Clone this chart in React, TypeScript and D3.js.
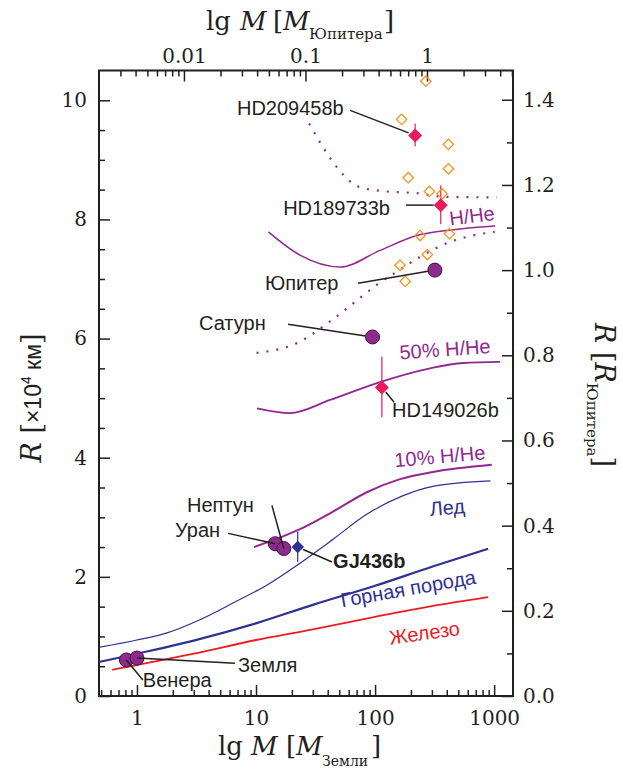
import React, { useEffect, useRef } from "react";
import * as d3 from "d3";

// mass in Earth masses, radius in 10^4 km
const ironMass = [0.62, 1, 3, 10, 30, 100, 300, 890];
const ironRadius = [0.44, 0.52, 0.71, 0.94, 1.12, 1.33, 1.51, 1.66];

const rockMass = [0.48, 1, 3, 10, 30, 100, 300, 890];
const rockRadius = [0.57, 0.71, 0.93, 1.22, 1.53, 1.85, 2.17, 2.47];

const iceMass = [0.49, 1, 1.79, 3.38, 6.4, 12.3, 23.4, 45, 85, 170, 307, 930];
const iceRadius = [0.82, 0.94, 1.06, 1.28, 1.56, 1.86, 2.23, 2.64, 3.05, 3.36, 3.52, 3.61];

const h10Mass = [9.6, 23.4, 44.7, 85.2, 162, 307, 955];
const h10Radius = [2.5, 2.8, 3.1, 3.42, 3.64, 3.76, 3.88];

const h50Mass = [10.2, 19.3, 41.9, 110, 290, 550, 1120];
const h50Radius = [4.83, 4.75, 4.97, 5.27, 5.5, 5.59, 5.61];

const hheMass = [12.7, 23.4, 50.8, 110, 224, 420, 1020];
const hheRadius = [7.79, 7.4, 7.2, 7.48, 7.73, 7.82, 7.89];

// irradiated H/He models (dotted)
const hotUpperMass = [27.9, 43.3, 57.8, 70.2, 110, 224, 373, 1054];
const hotUpperRadius = [9.61, 8.99, 8.69, 8.56, 8.48, 8.44, 8.38, 8.37];
const hotLowerMass = [10.1, 21.9, 41.9, 70.2, 103, 152, 238, 400, 660, 1010];
const hotLowerRadius = [5.76, 5.92, 6.29, 6.64, 6.9, 7.12, 7.37, 7.6, 7.73, 7.79];

// solar system planets
const planetNames = ["Венера", "Земля", "Уран", "Нептун", "Сатурн", "Юпитер"];
const planetMass = [0.815, 1, 14.5, 17.1, 95.2, 317.8];
const planetRadius = [0.605, 0.637, 2.556, 2.476, 6.027, 7.149];

// transiting planets with error bars
const transitNames = ["HD209458b", "HD189733b", "HD149026b"];
const transitMass = [217, 356, 114];
const transitRadius = [9.41, 8.24, 5.18];
const transitLow = [9.23, 7.92, 4.68];
const transitHigh = [9.61, 8.57, 5.7];

const gjMass = [22.4];
const gjRadius = [2.5];
const gjLow = [2.25];
const gjHigh = [2.76];

// other known transiting giants
const otherMass = [267, 167, 413, 413, 190, 286, 365, 239, 421, 275, 162, 179];
const otherRadius = [10.32, 9.68, 9.26, 8.85, 8.7, 8.47, 8.43, 7.73, 7.76, 7.41, 7.23, 6.96];

const bottomMajor = [1, 10, 100, 1000];
const topMajor = [0.01, 0.1, 1];
const leftMajor = [0, 2, 4, 6, 8, 10];
const rightMajor = [0, 0.2, 0.4, 0.6, 0.8, 1.0, 1.2, 1.4];

const RJ = 7.149; // Jupiter radius, 10^4 km

const PURPLE = "#93278F";
const BLUE = "#2E3192";
const RED = "#ED1C24";
const PINK = "#EC1A5B";
const ORANGE = "#F7941D";
const INK = "#231F20";
const SERIF = "'DejaVu Serif', serif";
const SANS = "'Liberation Sans', Arial, sans-serif";

// annotation layout (data coordinates)
const leaders = [
  { text: "HD209458b", tx: 6.92, ty: 9.75, fx: 61.7, fy: 9.83, px: 217, py: 9.41, trim: 7 },
  { text: "HD189733b", tx: 16.9, ty: 8.07, fx: 182, fy: 8.24, px: 356, py: 8.24, trim: 7 },
  { text: "Юпитер", tx: 11.9, ty: 6.81, fx: 72, fy: 6.93, px: 317.8, py: 7.149, trim: 7 },
  { text: "Сатурн", tx: 3.32, ty: 6.14, fx: 18.6, fy: 6.24, px: 95.2, py: 6.027, trim: 7 },
  { text: "HD149026b", tx: 139, ty: 4.68, fx: 144.5, fy: 4.93, px: 114, py: 5.18, trim: 6 },
  { text: "Нептун", tx: 2.63, ty: 3.09, fx: 13.6, fy: 3.2, px: 17.1, py: 2.476, trim: 0 },
  { text: "Уран", tx: 2.09, ty: 2.67, fx: 5.82, fy: 2.73, px: 14.5, py: 2.556, trim: 0 },
  { text: "GJ436b", tx: 44.4, ty: 2.15, fx: 43.5, fy: 2.25, px: 22.4, py: 2.5, trim: 6, bold: true },
  { text: "Земля", tx: 7.06, ty: 0.4, fx: 6.66, fy: 0.55, px: 1, py: 0.637, trim: 0 },
  { text: "Венера", tx: 1.12, ty: 0.15, fx: 1.12, fy: 0.27, px: 0.815, py: 0.605, trim: 0 },
];

const curveLabels = [
  { text: "H/He", tx: 427, ty: 7.9, rot: -7, color: PURPLE },
  { text: "50% H/He", tx: 162, ty: 5.65, rot: -4, color: PURPLE },
  { text: "10% H/He", tx: 147, ty: 3.84, rot: -5, color: PURPLE },
  { text: "Лед", tx: 290, ty: 3.02, rot: -5, color: BLUE },
  { text: "Горная порода", tx: 52.8, ty: 1.49, rot: -10, color: BLUE },
  { text: "Железо", tx: 134, ty: 0.86, rot: -8, color: RED },
];

const App = () => {
  const svgRef = useRef<SVGSVGElement>(null);

  useEffect(() => {
    document.body.style.margin = "0";
    const svg = d3.select(svgRef.current);
    svg.selectAll("*").remove();

    const left = 99, right = 513, top = 70.5, bottom = 696;

    const x = d3.scaleLog().domain([0.48, 1440]).range([left, right]);
    const xTop = d3.scaleLog().domain([0.002, 5.1]).range([left, right]);
    const y = d3.scaleLinear().domain([0, 10.5]).range([bottom, top]);
    const yR = d3.scaleLinear().domain([0, 10.5 / RJ]).range([bottom, top]);

    const zip = (ms: number[], rs: number[]) => ms.map((m, i) => [m, rs[i]] as [number, number]);
    const line = d3
      .line<[number, number]>()
      .x((d) => x(d[0]))
      .y((d) => y(d[1]))
      .curve(d3.curveMonotoneX);

    // --- axes ---
    const styleAxis = (g: any) => {
      g.select(".domain").remove();
      g.selectAll("line").attr("stroke", INK).attr("stroke-width", 1.5);
      g.selectAll("text").attr("fill", INK).style("font-family", SERIF).style("font-size", "20px");
    };

    const minorBottom = [0.5, 0.6, 0.7, 0.8, 0.9, 2, 3, 4, 5, 6, 7, 8, 9, 20, 30, 40, 50, 60, 70, 80, 90, 200, 300, 400, 500, 600, 700, 800, 900];
    const minorTop = [0.003, 0.004, 0.005, 0.006, 0.007, 0.008, 0.009, 0.02, 0.03, 0.04, 0.05, 0.06, 0.07, 0.08, 0.09, 0.2, 0.3, 0.4, 0.5, 0.6, 0.7, 0.8, 0.9, 2, 3, 4, 5];
    const minorLeft = d3.range(0.5, 10.5, 0.5).filter((v) => v % 2 !== 0);
    const minorRight = [0.1, 0.3, 0.5, 0.7, 0.9, 1.1, 1.3];

    const gB = svg.append("g").attr("transform", `translate(0,${bottom})`);
    gB.append("g").call(d3.axisBottom(x).tickValues(minorBottom).tickSize(-6).tickFormat(() => "")).call(styleAxis);
    gB.append("g")
      .call(d3.axisBottom(x).tickValues(bottomMajor).tickSize(-11).tickPadding(15).tickFormat((d: any) => String(d)))
      .call(styleAxis);

    const gT = svg.append("g").attr("transform", `translate(0,${top})`);
    gT.append("g").call(d3.axisTop(xTop).tickValues(minorTop).tickSize(-6).tickFormat(() => "")).call(styleAxis);
    gT.append("g")
      .call(d3.axisTop(xTop).tickValues(topMajor).tickSize(-11).tickPadding(8).tickFormat((d: any) => String(d)))
      .call(styleAxis);

    const gL = svg.append("g").attr("transform", `translate(${left},0)`);
    gL.append("g").call(d3.axisLeft(y).tickValues(minorLeft).tickSize(-6).tickFormat(() => "")).call(styleAxis);
    gL.append("g")
      .call(d3.axisLeft(y).tickValues(leftMajor).tickSize(-11).tickPadding(12).tickFormat(d3.format("d")))
      .call(styleAxis);

    const gR = svg.append("g").attr("transform", `translate(${right},0)`);
    gR.append("g").call(d3.axisRight(yR).tickValues(minorRight).tickSize(-6).tickFormat(() => "")).call(styleAxis);
    gR.append("g")
      .call(d3.axisRight(yR).tickValues(rightMajor).tickSize(-11).tickPadding(10).tickFormat(d3.format(".1f")))
      .call(styleAxis);

    svg
      .append("rect")
      .attr("x", left)
      .attr("y", top)
      .attr("width", right - left)
      .attr("height", bottom - top)
      .attr("fill", "none")
      .attr("stroke", INK)
      .attr("stroke-width", 2);

    // --- axis titles ---
    const bt = svg.append("text").attr("fill", INK).style("font-family", SERIF).style("font-size", "26px");
    bt.append("tspan").attr("x", 218).attr("y", 755).text("lg");
    bt.append("tspan").attr("x", 251).attr("y", 755).style("font-style", "italic").text("M");
    bt.append("tspan").attr("x", 286).attr("y", 755).text("[");
    bt.append("tspan").attr("x", 296).attr("y", 755).style("font-style", "italic").text("M");
    bt.append("tspan").attr("x", 322).attr("y", 766).style("font-size", "14px").text("Земли");
    bt.append("tspan").attr("x", 371).attr("y", 755).text("]");

    const tt = svg.append("text").attr("fill", INK).style("font-family", SERIF).style("font-size", "26px");
    tt.append("tspan").attr("x", 206).attr("y", 30).text("lg");
    tt.append("tspan").attr("x", 240).attr("y", 30).style("font-style", "italic").text("M");
    tt.append("tspan").attr("x", 273).attr("y", 30).text("[");
    tt.append("tspan").attr("x", 283).attr("y", 30).style("font-style", "italic").text("M");
    tt.append("tspan").attr("x", 309).attr("y", 39).style("font-size", "15px").text("Юпитера");
    tt.append("tspan").attr("x", 384).attr("y", 30).text("]");

    const lt = svg
      .append("text")
      .attr("transform", "translate(41,398) rotate(-90)")
      .attr("text-anchor", "middle")
      .attr("fill", INK)
      .style("font-family", SERIF)
      .style("font-size", "27px");
    lt.append("tspan").style("font-style", "italic").text("R");
    lt.append("tspan").text(" [");
    lt.append("tspan").style("font-family", SANS).style("font-size", "23px").text("×10");
    lt.append("tspan").attr("dy", -10).style("font-family", SANS).style("font-size", "14px").text("4");
    lt.append("tspan").attr("dy", 10).style("font-family", SANS).style("font-size", "23px").text(" км");
    lt.append("tspan").text("]");

    const rt = svg
      .append("text")
      .attr("transform", "translate(595,395) rotate(90)")
      .attr("text-anchor", "middle")
      .attr("fill", INK)
      .style("font-family", SERIF)
      .style("font-size", "27px");
    rt.append("tspan").style("font-style", "italic").text("R");
    rt.append("tspan").text(" [");
    rt.append("tspan").style("font-style", "italic").text("R");
    rt.append("tspan").attr("dy", 8).style("font-size", "15px").text("Юпитера");
    rt.append("tspan").attr("dy", -8).text("]");

    // --- model curves ---
    const plot = svg.append("g");
    const curves = [
      { d: zip(ironMass, ironRadius), c: RED, w: 1.8 },
      { d: zip(rockMass, rockRadius), c: BLUE, w: 2.2 },
      { d: zip(iceMass, iceRadius), c: BLUE, w: 1.2 },
      { d: zip(h10Mass, h10Radius), c: PURPLE, w: 2 },
      { d: zip(h50Mass, h50Radius), c: PURPLE, w: 1.8 },
      { d: zip(hheMass, hheRadius), c: PURPLE, w: 1.5 },
    ];
    plot
      .selectAll("path.model")
      .data(curves)
      .join("path")
      .attr("class", "model")
      .attr("d", (c) => line(c.d))
      .attr("fill", "none")
      .attr("stroke", (c) => c.c)
      .attr("stroke-width", (c) => c.w);

    plot
      .selectAll("path.hot")
      .data([zip(hotUpperMass, hotUpperRadius), zip(hotLowerMass, hotLowerRadius)])
      .join("path")
      .attr("class", "hot")
      .attr("d", (d) => line(d))
      .attr("fill", "none")
      .attr("stroke", PURPLE)
      .attr("stroke-width", 2.2)
      .attr("stroke-dasharray", "2,8");

    // curve labels
    curveLabels.forEach((l) => {
      svg
        .append("text")
        .attr("transform", `translate(${x(l.tx)},${y(l.ty)}) rotate(${l.rot})`)
        .attr("fill", l.color)
        .style("font-family", SANS)
        .style("font-size", "20px")
        .text(l.text);
    });

    // error bars
    const bars = [
      ...transitMass.map((m, i) => ({ m, lo: transitLow[i], hi: transitHigh[i], c: PINK })),
      ...gjMass.map((m, i) => ({ m, lo: gjLow[i], hi: gjHigh[i], c: BLUE })),
    ];
    plot
      .selectAll("line.err")
      .data(bars)
      .join("line")
      .attr("class", "err")
      .attr("x1", (d) => x(d.m))
      .attr("x2", (d) => x(d.m))
      .attr("y1", (d) => y(d.lo))
      .attr("y2", (d) => y(d.hi))
      .attr("stroke", (d) => d.c)
      .attr("stroke-width", 1.2);

    const diamond = (h: number) => d3.symbol(d3.symbolSquare, 2 * h * h)();

    // other exoplanets (open orange diamonds)
    plot
      .selectAll("path.other")
      .data(zip(otherMass, otherRadius))
      .join("path")
      .attr("class", "other")
      .attr("d", diamond(5.2))
      .attr("transform", (d) => `translate(${x(d[0])},${y(d[1])}) rotate(45)`)
      .attr("fill", "none")
      .attr("stroke", ORANGE)
      .attr("stroke-width", 1.3);

    plot
      .selectAll("path.transit")
      .data(zip(transitMass, transitRadius))
      .join("path")
      .attr("class", "transit")
      .attr("d", diamond(7))
      .attr("transform", (d) => `translate(${x(d[0])},${y(d[1])}) rotate(45)`)
      .attr("fill", PINK);

    plot
      .selectAll("path.gj")
      .data(zip(gjMass, gjRadius))
      .join("path")
      .attr("class", "gj")
      .attr("d", diamond(6.3))
      .attr("transform", (d) => `translate(${x(d[0])},${y(d[1])}) rotate(45)`)
      .attr("fill", BLUE);

    // solar system planets; Neptune in front of Uranus, Earth in front of Venus
    plot
      .selectAll("circle.planet")
      .data(planetNames.map((n, i) => ({ n, m: planetMass[i], r: planetRadius[i] })))
      .join("circle")
      .attr("class", "planet")
      .attr("cx", (d) => x(d.m))
      .attr("cy", (d) => y(d.r))
      .attr("r", 7)
      .attr("fill", "#8E2A8E")
      .attr("stroke", "#3B1238")
      .attr("stroke-width", 1);

    // leaders and labels
    leaders.forEach((l) => {
      const x1 = x(l.fx), y1 = y(l.fy);
      let x2 = x(l.px), y2 = y(l.py);
      const len = Math.hypot(x2 - x1, y2 - y1);
      x2 -= ((x2 - x1) / len) * l.trim;
      y2 -= ((y2 - y1) / len) * l.trim;
      svg
        .append("line")
        .attr("x1", x1)
        .attr("y1", y1)
        .attr("x2", x2)
        .attr("y2", y2)
        .attr("stroke", INK)
        .attr("stroke-width", 1.5);
      svg
        .append("text")
        .attr("x", x(l.tx))
        .attr("y", y(l.ty))
        .attr("fill", INK)
        .style("font-family", SANS)
        .style("font-size", "20px")
        .style("font-weight", l.bold ? "bold" : "normal")
        .text(l.text);
    });
  }, []);

  return <svg ref={svgRef} width={623} height={778} style={{ display: "block", background: "#fff" }} />;
};

export default App;
